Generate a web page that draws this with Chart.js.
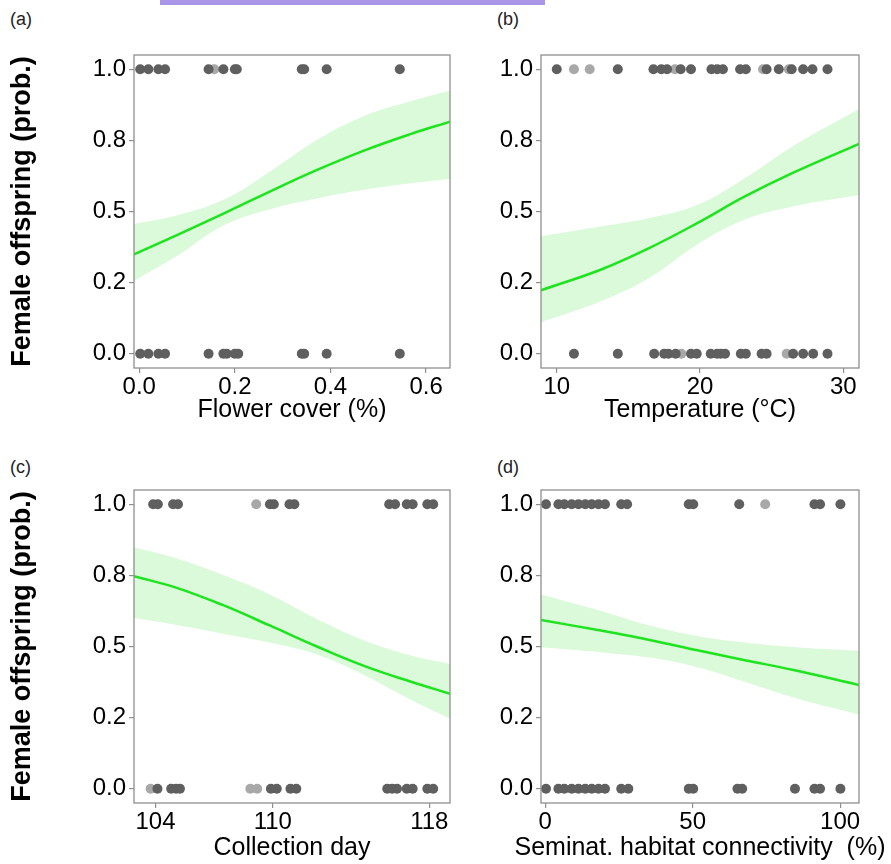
<!DOCTYPE html>
<html>
<head>
<meta charset="utf-8">
<script src="https://cdn.jsdelivr.net/npm/chart.js@4.4.0/dist/chart.umd.min.js"></script>
<style>
  body { margin: 0; background: #fff; width: 891px; height: 864px; position: relative; overflow: hidden; font-family: "Liberation Sans", Arial, sans-serif; }
  canvas { position: absolute; }
  .tag { position: absolute; font-size: 18px; color: #222; }
  #bar { position: absolute; left: 160px; top: 0; width: 385px; height: 5px; background: #a996e8; }
</style>
</head>
<body>
<div id="bar"></div>
<div class="tag" style="left:10px;top:9px">(a)</div>
<div class="tag" style="left:497px;top:9px">(b)</div>
<div class="tag" style="left:10px;top:457px">(c)</div>
<div class="tag" style="left:497px;top:457px">(d)</div>
<canvas id="chartA" width="460" height="390" style="left:0;top:40px"></canvas>
<canvas id="chartB" width="431" height="390" style="left:460px;top:40px"></canvas>
<canvas id="chartC" width="460" height="394" style="left:0;top:470px"></canvas>
<canvas id="chartD" width="431" height="394" style="left:460px;top:470px"></canvas>
<script>
// shared y axis (probability of female offspring)
const yTicks = [0, 0.25, 0.5, 0.75, 1];
const yTickLabels = ['0.0', '0.2', '0.5', '0.8', '1.0'];

// (a) flower cover
const flowerTicks = [0, 0.2, 0.4, 0.6];
const flowerTickLabels = ['0.0', '0.2', '0.4', '0.6'];
const flowerFemale = [0.002, 0.019, 0.04, 0.054, 0.145, 0.176, 0.2, 0.204, 0.34, 0.345, 0.392, 0.545];
const flowerFemaleFaint = [0.157];
const flowerMale = [0.002, 0.019, 0.04, 0.054, 0.145, 0.176, 0.183, 0.2, 0.207, 0.34, 0.345, 0.392, 0.545];
const flowerMaleFaint = [];
const flowerCurveX = [-0.011, 0.08, 0.175, 0.273, 0.372, 0.47, 0.569, 0.65];
const flowerFit = [0.349, 0.418, 0.492, 0.570, 0.646, 0.714, 0.773, 0.816];
const flowerUpper = [0.456, 0.487, 0.540, 0.640, 0.752, 0.835, 0.888, 0.925];
const flowerLower = [0.256, 0.345, 0.450, 0.508, 0.546, 0.576, 0.599, 0.614];

// (b) temperature
const tempTicks = [10, 20, 30];
const tempTickLabels = ['10', '20', '30'];
const tempFemale = [10.0, 14.26, 16.75, 17.3, 17.7, 18.65, 19.37, 20.8, 21.2, 21.6, 22.8, 23.2, 24.65, 25.5, 26.4, 27.2, 27.85, 28.9];
const tempFemaleFaint = [11.2, 12.3, 18.25, 24.4, 26.2];
const tempMale = [11.2, 14.26, 16.8, 17.5, 17.8, 18.3, 19.37, 19.77, 20.75, 21.2, 21.45, 21.75, 22.85, 23.2, 24.3, 24.65, 26.5, 27.2, 27.9, 28.9];
const tempMaleFaint = [18.7, 26.05];
const tempCurveX = [8.9, 13.15, 16.48, 19.8, 23.1, 26.4, 31.1];
const tempFit = [0.223, 0.297, 0.372, 0.459, 0.552, 0.634, 0.738];
const tempUpper = [0.413, 0.448, 0.477, 0.523, 0.616, 0.727, 0.860];
const tempLower = [0.110, 0.186, 0.267, 0.384, 0.471, 0.517, 0.558];

// (c) collection day
const dayTicks = [104, 110, 118];
const dayTickLabels = ['104', '110', '118'];
const dayFemale = [103.88, 104.12, 104.9, 105.15, 109.85, 110.05, 110.85, 111.1, 115.95, 116.25, 116.85, 117.15, 117.9, 118.2];
const dayFemaleFaint = [109.15];
const dayMale = [104.1, 104.8, 105.05, 105.25, 109.9, 110.2, 110.9, 111.2, 115.85, 116.1, 116.35, 116.85, 117.15, 117.9, 118.2];
const dayMaleFaint = [103.75, 108.85, 109.2];
const dayCurveX = [102.89, 105.01, 107.43, 109.84, 112.25, 114.66, 117.07, 119.06];
const dayFit = [0.747, 0.708, 0.646, 0.574, 0.500, 0.432, 0.376, 0.334];
const dayUpper = [0.849, 0.811, 0.752, 0.683, 0.597, 0.522, 0.468, 0.438];
const dayLower = [0.601, 0.576, 0.545, 0.514, 0.472, 0.400, 0.312, 0.247];

// (d) semi-natural habitat connectivity
const connTicks = [0, 50, 100];
const connTickLabels = ['0', '50', '100'];
const connFemale = [0.3, 4.5, 6.5, 9, 11.3, 13.6, 15.8, 18.1, 20.3, 25.8, 27.8, 48.7, 50.2, 65.8, 91.3, 93.2, 100.1];
const connFemaleFaint = [74.6];
const connMale = [0.3, 4.5, 6.5, 9, 11.3, 13.6, 15.8, 18.1, 20.3, 25.8, 28.2, 48.7, 50.2, 65.2, 66.8, 84.7, 91.3, 93.2, 100.1];
const connMaleFaint = [];
const connCurveX = [-1.4, 19.3, 35.4, 51.6, 67.7, 83.8, 106.4];
const connFit = [0.593, 0.555, 0.523, 0.487, 0.452, 0.418, 0.365];
const connUpper = [0.683, 0.624, 0.574, 0.537, 0.514, 0.498, 0.485];
const connLower = [0.497, 0.479, 0.461, 0.427, 0.376, 0.322, 0.261];

const FONT = '"Liberation Sans", Arial, sans-serif';
const AXIS_GREY = '#8f8f8f';

// grey box round the plotting area
const panelBox = {
  id: 'panelBox',
  afterDatasetsDraw(chart) {
    const { ctx, chartArea: a } = chart;
    ctx.save();
    ctx.strokeStyle = AXIS_GREY;
    ctx.lineWidth = 1.3;
    ctx.strokeRect(a.left, a.top, a.right - a.left, a.bottom - a.top);
    ctx.restore();
  }
};

// x title drawn without the library's maxWidth squeeze
const xTitle = {
  id: 'xTitle',
  afterDraw(chart, args, opts) {
    const { ctx, chartArea: a } = chart;
    ctx.save();
    ctx.font = '25px ' + FONT;
    ctx.fillStyle = '#000';
    ctx.textAlign = 'center';
    ctx.textBaseline = 'middle';
    ctx.fillText(opts.text, (a.left + a.right) / 2, a.bottom + opts.offset);
    ctx.restore();
  }
};

function pts(xs, y) {
  return xs.map(x => ({ x: x, y: y }));
}

function curve(xs, ys) {
  return xs.map((x, i) => ({ x: x, y: ys[i] }));
}

function makePanel(id, p) {
  const ctx = document.getElementById(id).getContext('2d');
  new Chart(ctx, {
    type: 'scatter',
    data: {
      datasets: [
        {
          data: pts(p.female, 1).concat(pts(p.male, 0)),
          backgroundColor: '#5f5f5f',
          pointRadius: 5,
          borderWidth: 0
        },
        {
          data: pts(p.femaleFaint, 1).concat(pts(p.maleFaint, 0)),
          backgroundColor: '#a8a8a8',
          pointRadius: 5,
          borderWidth: 0
        },
        {
          type: 'line',
          data: curve(p.curveX, p.fit),
          borderColor: '#1ee41e',
          borderWidth: 2.5,
          pointRadius: 0,
          tension: 0.4,
          fill: false
        },
        {
          type: 'line',
          data: curve(p.curveX, p.upper),
          borderWidth: 0,
          pointRadius: 0,
          tension: 0.4,
          fill: false
        },
        {
          type: 'line',
          data: curve(p.curveX, p.lower),
          borderWidth: 0,
          pointRadius: 0,
          tension: 0.4,
          backgroundColor: 'rgba(150, 240, 150, 0.35)',
          fill: '-1'
        }
      ]
    },
    options: {
      responsive: false,
      animation: false,
      layout: { padding: { top: p.padTop, right: p.padRight, left: 0, bottom: 0 } },
      plugins: {
        legend: { display: false },
        tooltip: { enabled: false },
        xTitle: { text: p.title, offset: p.titleOffset }
      },
      scales: {
        x: {
          type: 'linear',
          min: p.xMin,
          max: p.xMax,
          afterBuildTicks: s => { s.ticks = p.ticks.map(v => ({ value: v })); },
          afterFit: s => { s.height = p.axisH; },
          border: { display: false },
          grid: { drawOnChartArea: false, tickLength: 5, color: AXIS_GREY, lineWidth: 1.2 },
          ticks: {
            callback: (v, i) => p.tickLabels[i],
            color: '#000',
            padding: 2,
            maxRotation: 0,
            autoSkip: false,
            font: { family: FONT, size: 24, lineHeight: 1 }
          }
        },
        y: {
          min: -0.05,
          max: 1.05,
          afterBuildTicks: s => { s.ticks = yTicks.map(v => ({ value: v })); },
          afterFit: s => { s.width = p.axisW; },
          border: { display: false },
          grid: { drawOnChartArea: false, tickLength: 5, color: AXIS_GREY, lineWidth: 1.2 },
          ticks: {
            callback: (v, i) => yTickLabels[i],
            color: '#000',
            padding: 3,
            font: { family: FONT, size: 24, lineHeight: 1 }
          },
          title: {
            display: p.yTitle,
            text: 'Female offspring (prob.)',
            color: '#000',
            padding: { top: 9, bottom: 0 },
            font: { family: FONT, size: 27, weight: 'bold', lineHeight: 1 }
          }
        }
      }
    },
    plugins: [panelBox, xTitle]
  });
}

makePanel('chartA', {
  female: flowerFemale, femaleFaint: flowerFemaleFaint, male: flowerMale, maleFaint: flowerMaleFaint,
  curveX: flowerCurveX, fit: flowerFit, upper: flowerUpper, lower: flowerLower,
  ticks: flowerTicks, tickLabels: flowerTickLabels, xMin: -0.011, xMax: 0.65,
  title: 'Flower cover (%)', yTitle: true,
  axisW: 134, padRight: 10, padTop: 13, axisH: 62, titleOffset: 42
});

makePanel('chartB', {
  female: tempFemale, femaleFaint: tempFemaleFaint, male: tempMale, maleFaint: tempMaleFaint,
  curveX: tempCurveX, fit: tempFit, upper: tempUpper, lower: tempLower,
  ticks: tempTicks, tickLabels: tempTickLabels, xMin: 8.9, xMax: 31.1,
  title: 'Temperature (°C)', yTitle: false,
  axisW: 81, padRight: 32, padTop: 13, axisH: 62, titleOffset: 42
});

makePanel('chartC', {
  female: dayFemale, femaleFaint: dayFemaleFaint, male: dayMale, maleFaint: dayMaleFaint,
  curveX: dayCurveX, fit: dayFit, upper: dayUpper, lower: dayLower,
  ticks: dayTicks, tickLabels: dayTickLabels, xMin: 102.9, xMax: 119.06,
  title: 'Collection day', yTitle: true,
  axisW: 134, padRight: 10, padTop: 20, axisH: 61, titleOffset: 45
});

makePanel('chartD', {
  female: connFemale, femaleFaint: connFemaleFaint, male: connMale, maleFaint: connMaleFaint,
  curveX: connCurveX, fit: connFit, upper: connUpper, lower: connLower,
  ticks: connTicks, tickLabels: connTickLabels, xMin: -1.4, xMax: 106.4,
  title: 'Seminat. habitat connectivity  (%)', yTitle: false,
  axisW: 81, padRight: 32, padTop: 20, axisH: 61, titleOffset: 45
});
</script>
</body>
</html>
